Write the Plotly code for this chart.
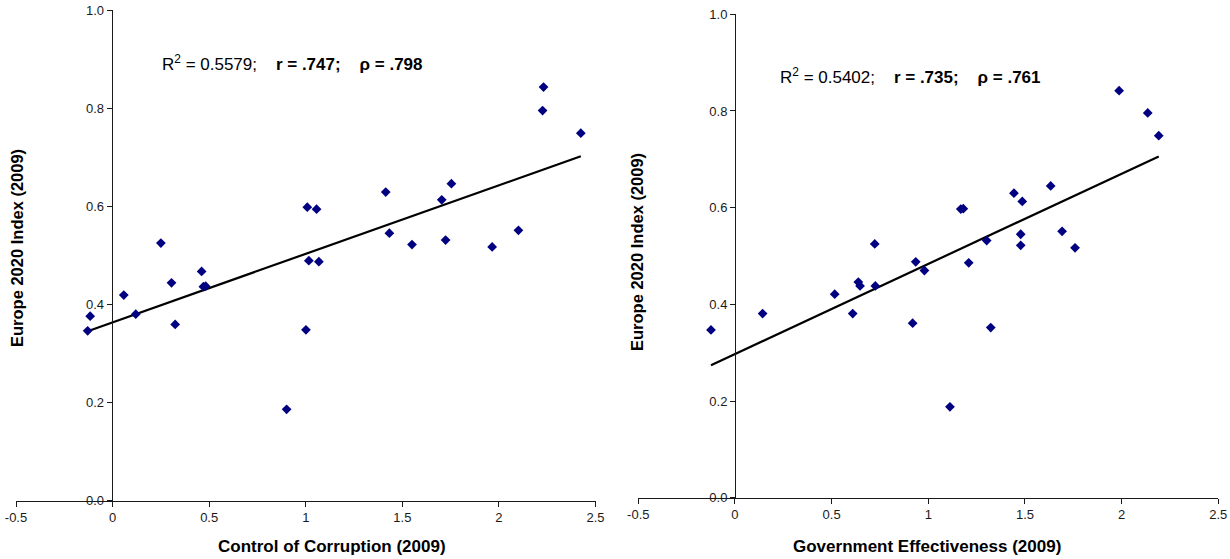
import numpy as np
import plotly.graph_objects as go

W, H = 1230, 559

# ---- data ----
corruption_x = [0.25, 1.008, 1.056, 0.461, 1.016, 1.068, 2.231, 2.226, 2.424, 1.414,
                1.754, 1.704, 1.433, 1.550, 1.724, 1.965, 2.101, 0.305, 0.470, 0.482,
                0.058, -0.116, -0.129, 0.120, 0.324, 0.901, 1.001]
corruption_y = [0.525, 0.598, 0.594, 0.467, 0.489, 0.487, 0.843, 0.795, 0.749, 0.629,
                0.646, 0.613, 0.545, 0.522, 0.531, 0.517, 0.551, 0.444, 0.436, 0.437,
                0.419, 0.376, 0.346, 0.380, 0.359, 0.186, 0.348]

effect_x = [0.723, 0.935, 1.987, 2.135, 2.192, 1.633, 1.443, 1.486, 1.168, 1.181,
            1.478, 1.478, 1.692, 1.759, 1.302, 1.209, 0.980, 1.323, 1.112, -0.124,
            0.143, 0.516, 0.609, 0.638, 0.647, 0.726, 0.919]
effect_y = [0.525, 0.488, 0.842, 0.796, 0.749, 0.645, 0.630, 0.613, 0.597, 0.598,
            0.545, 0.522, 0.551, 0.517, 0.532, 0.486, 0.470, 0.352, 0.188, 0.347,
            0.381, 0.421, 0.381, 0.446, 0.438, 0.438, 0.361]

x_tick_vals = [-0.5, 0, 0.5, 1, 1.5, 2, 2.5]
x_tick_text = ["-0.5", "0", "0.5", "1", "1.5", "2", "2.5"]
y_tick_vals = [0.0, 0.2, 0.4, 0.6, 0.8, 1.0]
y_tick_text = ["0.0", "0.2", "0.4", "0.6", "0.8", "1.0"]

x_titles = ["Control of Corruption (2009)", "Government Effectiveness (2009)"]
y_title = "Europe 2020 Index (2009)"
stats = [("0.5579", ".747", ".798"), ("0.5402", ".735", ".761")]

FONT = "Arial, 'Liberation Sans', sans-serif"
MARKER = "#000080"
AX = "#1a1a1a"

fig = go.Figure()

panels = [
    dict(x=corruption_x, y=corruption_y, px=(16, 595.5), py=(10, 500.6), x0pix=111.7),
    dict(x=effect_x, y=effect_y, px=(638.3, 1218.3), py=(14.3, 497.7), x0pix=735),
]

for i, p in enumerate(panels):
    n = "" if i == 0 else str(i + 1)
    xa, ya = "x" + n, "y" + n
    xs = np.array(p["x"]); ys = np.array(p["y"])
    slope, icpt = np.polyfit(xs, ys, 1)
    lx = np.array([xs.min(), xs.max()])
    fig.add_trace(go.Scatter(x=lx, y=slope * lx + icpt, mode="lines",
                             line=dict(color="black", width=2.2),
                             xaxis=xa, yaxis=ya, showlegend=False, hoverinfo="skip"))
    fig.add_trace(go.Scatter(x=p["x"], y=p["y"], mode="markers",
                             marker=dict(symbol="diamond", size=7.5, color=MARKER),
                             xaxis=xa, yaxis=ya, showlegend=False, cliponaxis=False))
    xdom = [p["px"][0] / W, p["px"][1] / W]
    ydom = [(H - p["py"][1]) / H, (H - p["py"][0]) / H]
    fig.layout["xaxis" + n] = dict(
        domain=xdom, range=[-0.5, 2.5], anchor=ya, showgrid=False, zeroline=False,
        showline=True, linecolor=AX, linewidth=1, ticks="outside", ticklen=5,
        tickcolor=AX, tickvals=x_tick_vals, ticktext=x_tick_text, automargin=False,
        tickfont=dict(family=FONT, size=13, color=AX), fixedrange=True)
    fig.layout["yaxis" + n] = dict(
        domain=ydom, range=[0, 1], anchor="free", position=p["x0pix"] / W,
        showgrid=False, zeroline=False, showline=True, linecolor=AX, linewidth=1,
        ticks="outside", ticklen=5, tickcolor=AX, tickvals=y_tick_vals,
        ticktext=y_tick_text, tickfont=dict(family=FONT, size=13, color=AX),
        automargin=False, fixedrange=True)

NB = "\u00a0"
anns = []
# stats text
for (r2, r, rho), (ax, ay) in zip(stats, [(160, 63), (778, 76)]):
    txt = (f"R<sup>2</sup> = {r2};{NB*4}<b>r = {r};{NB*4}\u03c1 = {rho}</b>")
    anns.append(dict(text=txt, x=ax / W, y=(H - ay) / H, xref="paper", yref="paper",
                     xanchor="left", yanchor="middle", showarrow=False,
                     font=dict(family=FONT, size=17, color="black")))
# x titles
for t, cx in zip(x_titles, [332, 927]):
    anns.append(dict(text=f"<b>{t}</b>", x=cx / W, y=(H - 546) / H, xref="paper",
                     yref="paper", xanchor="center", yanchor="middle", showarrow=False,
                     font=dict(family=FONT, size=17, color="black")))
# y titles
for cx, cy in [(17, 248), (637, 252)]:
    anns.append(dict(text=f"<b>{y_title}</b>", x=cx / W, y=(H - cy) / H, xref="paper",
                     yref="paper", xanchor="center", yanchor="middle", showarrow=False,
                     textangle=-90, font=dict(family=FONT, size=16.5, color="black")))

fig.update_layout(width=W, height=H, margin=dict(l=0, r=0, t=0, b=0, pad=0, autoexpand=False),
                  paper_bgcolor="white", plot_bgcolor="white", annotations=anns,
                  showlegend=False)

fig.write_html("out.html")
